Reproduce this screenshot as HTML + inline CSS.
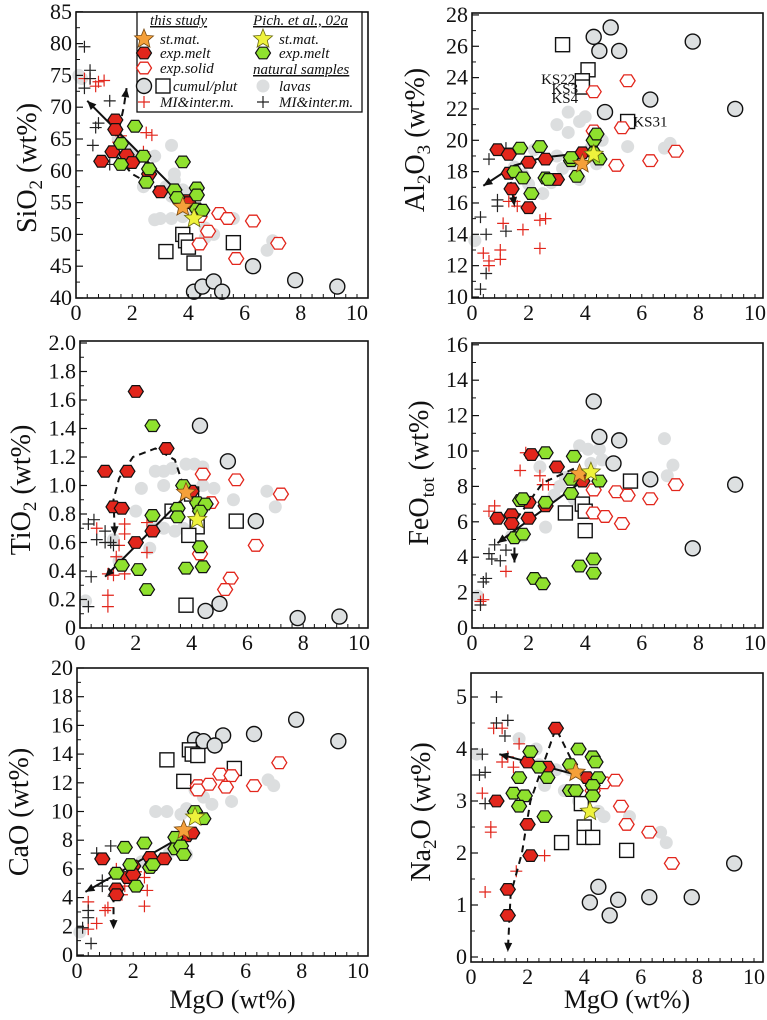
<!DOCTYPE html>
<html><head><meta charset="utf-8">
<style>
html,body{margin:0;padding:0;background:#fff;}
svg{display:block;}
svg text{font-family:"Liberation Serif","DejaVu Serif","Times New Roman",serif;}
</style></head>
<body>
<svg id="fig" width="767" height="1020" viewBox="0 0 767 1020" xmlns="http://www.w3.org/2000/svg"></svg>
<script>
// ---------------- DATA (MgO, oxide) ----------------
// SiO2 panel
const siLavas=[[0.1,75],[0.2,74.5],[1.5,65],[1.8,63.5],[2.0,62.5],[2.8,62.3],[3.4,64],[2.4,57.5],[3.2,57.5],[3.5,58.5],[3.8,57],[3.4,56],[3.9,56.2],[2.8,52.3],[3.0,52.5],[3.4,52.5],[3.8,52.8],[4.2,53],[4.6,51],[4.9,50],[5.6,52.5],[6.8,47.5],[7.0,49],[4.6,49.5],[3.5,59.5]];
const siRedPlus=[[0.3,74.5],[0.5,74.5],[0.7,73.3],[0.8,74],[1.0,74.2],[1.6,65.5],[1.5,64.5],[2.5,66],[2.7,65.6],[2.4,63]];
const siBlackPlus=[[0.3,79.5],[0.5,75.8],[0.5,74.5],[0.3,73],[1.2,71],[0.8,67.5],[0.7,66.8],[0.6,64],[1.2,61]];
const siCumul=[[4.2,41],[4.5,41.8],[4.9,42.6],[5.2,41],[6.3,45],[7.8,42.8],[9.3,41.8]];
const siPlut=[[3.2,47.3],[3.8,50],[3.9,49],[4.0,48],[4.2,45.5],[5.6,48.7]];
const siExpSolid=[[4.4,52.8],[4.7,50.5],[4.4,48.5],[5.1,53.3],[5.4,52.5],[5.7,46.2],[6.3,52.1],[7.2,48.6]];
const siRedMelt=[[1.4,68],[1.4,66.5],[1.3,63],[0.9,61.5],[1.8,62.5],[2.0,61.3],[2.6,59.5],[3.0,56.7],[3.9,55.3],[4.0,55]];
const siGreenMelt=[[2.1,67],[1.6,64.3],[1.6,61],[2.4,62.3],[2.6,60.3],[2.5,58.2],[3.5,57],[3.6,55.8],[3.8,61.4],[4.3,57.3],[4.3,56.2],[4.3,54],[4.5,53.8]];
const siOrangeStar=[[3.8,54.3]];
const siYellowStar=[[4.2,52.5]];
const siSolidTrend=[[4.0,55],[0.4,71]];
const siDashTrend=[[3.0,57],[2.0,59.5],[1.5,62],[1.5,66],[1.7,70],[1.8,73]];
// Al2O3 panel
const alLavas=[[0.1,13.6],[1.5,18.3],[1.8,17.8],[2.0,17.2],[2.5,16.6],[2.8,17.3],[3.2,18.2],[3.5,18.5],[3.8,17.5],[3.0,19],[3.4,20.5],[3.8,21.2],[4.0,21.5],[3.0,21],[3.4,21.8],[4.2,19.5],[4.6,20],[4.4,18.5],[5.5,19.6],[6.8,19.5],[7.0,19.8],[2.2,19.4]];
const alRedPlus=[[1.3,16.1],[1.5,16.1],[1.6,15.8],[1.1,14.7],[1.8,14.3],[2.4,14.9],[2.6,15],[2.4,13.1],[0.4,12.8],[0.6,12.3],[0.6,12],[1.0,13],[1.0,12.4]];
const alBlackPlus=[[0.6,18.8],[0.9,16.2],[0.9,15.8],[1.2,14.2],[0.3,15.1],[0.5,14],[0.5,11.5],[0.3,10.5],[1.2,19.5]];
const alCumul=[[4.9,27.2],[4.3,26.6],[4.5,25.7],[5.2,25.7],[7.8,26.3],[6.3,22.6],[9.3,22],[4.7,21.8]];
const alPlut=[[3.2,26.1],[4.1,24.5],[3.9,23.8],[3.9,23.4],[5.5,21.2]];
const alExpSolid=[[4.3,23.1],[5.5,23.8],[4.3,20.6],[5.3,20.8],[5.1,18.4],[6.3,18.7],[7.2,19.3]];
const alRedMelt=[[0.9,19.4],[1.3,19.1],[1.3,17.9],[1.4,16.9],[2.0,18.6],[2.0,15.7],[2.6,18.8],[3.0,17.5],[3.9,19.2]];
const alGreenMelt=[[1.7,19.5],[2.4,19.6],[1.5,18.0],[1.8,17.6],[2.6,17.6],[2.7,17.5],[2.1,16.6],[3.5,18.7],[3.5,18.9],[3.7,17.7],[4.3,20],[4.4,20.4],[4.3,19.2],[4.5,18.8]];
const alOrangeStar=[[3.9,18.5]];
const alYellowStar=[[4.3,19.1]];
const alSolidTrend=[[4.0,19.2],[2.5,18.9],[1.5,18.4],[0.4,17.1]];
const alDashTrend=[[1.3,18.1],[1.4,17],[1.5,15.8]];
const alSampleLabels=["KS22","KS3","KS4","KS31"];
const alSampleLabelPos=[[3.65,23.9],[3.75,23.3],[3.75,22.7],[5.7,21.2]];
// TiO2 panel
const tiLavas=[[0.2,0.19],[2.7,1.1],[3.0,1.1],[3.3,1.12],[3.8,1.15],[4.1,1.15],[4.4,1.13],[2.2,0.98],[3.0,1.0],[4.4,1.0],[4.8,0.98],[5.5,0.9],[6.7,0.96],[7.0,0.85],[2.6,0.72],[3.0,0.7],[3.4,0.68],[3.7,0.7],[2.5,0.56],[1.4,0.47],[1.2,0.62],[2.0,0.82]];
const tiRedPlus=[[0.6,0.7],[1.6,0.73],[1.6,0.66],[1.4,0.58],[2.4,0.74],[2.4,0.53],[1.3,0.5],[1.0,0.38],[1.2,0.37],[1.6,0.38],[1.0,0.23],[1.0,0.15]];
const tiBlackPlus=[[0.3,0.73],[0.5,0.76],[0.6,0.62],[0.9,0.68],[0.9,0.6],[1.1,0.6],[1.2,0.58],[0.4,0.36],[0.3,0.15]];
const tiCumul=[[4.3,1.42],[5.3,1.17],[6.3,0.75],[5.0,0.17],[4.5,0.12],[7.8,0.07],[9.3,0.08]];
const tiPlut=[[3.3,0.82],[4.0,0.94],[4.2,0.71],[3.9,0.65],[5.6,0.75],[3.8,0.16]];
const tiExpSolid=[[4.4,1.08],[5.6,1.04],[4.7,0.88],[7.2,0.94],[6.3,0.58],[4.3,0.52],[5.4,0.35],[5.2,0.27]];
const tiRedMelt=[[2.0,1.66],[3.1,1.26],[0.9,1.1],[1.7,1.1],[1.2,0.85],[1.5,0.84],[2.0,0.6],[2.6,0.68],[4.0,0.96]];
const tiGreenMelt=[[2.6,1.42],[3.7,1.0],[3.5,0.84],[3.5,0.78],[2.6,0.79],[4.3,0.84],[4.2,0.88],[4.5,0.87],[4.3,0.82],[4.3,0.57],[1.5,0.44],[2.1,0.41],[3.8,0.42],[4.4,0.43],[2.4,0.27]];
const tiOrangeStar=[[3.8,0.95]];
const tiYellowStar=[[4.2,0.76]];
const tiSolidTrend=[[3.9,0.95],[0.9,0.36]];
const tiDashTrend=[[3.7,1.0],[3.4,1.18],[2.7,1.26],[1.9,1.2],[1.4,1.05],[1.2,0.9],[1.25,0.65]];
// FeOtot panel
const feLavas=[[0.2,1.8],[3.8,10.3],[4.1,10.1],[4.5,10.1],[4.6,9.5],[2.4,9.1],[3.3,8.5],[3.1,8.0],[2.9,7.5],[3.6,7.3],[2.6,5.7],[1.8,5.2],[6.8,10.7],[7.1,9.2],[6.9,8.6],[4.2,9.3],[1.4,5.2]];
const feRedPlus=[[1.9,9.9],[1.7,8.9],[2.4,8.6],[2.5,8.1],[2.7,8.1],[0.6,6.6],[0.8,6.9],[1.2,3.2],[0.4,1.6],[0.3,1.5]];
const feBlackPlus=[[0.8,4.7],[1.2,4.4],[0.6,4.2],[0.7,3.9],[1.0,3.8],[0.4,2.6],[0.5,2.8],[0.3,1.3]];
const feCumul=[[4.3,12.8],[4.5,10.8],[5.2,10.6],[5.0,9.3],[6.3,8.4],[7.8,4.5],[9.3,8.1]];
const fePlut=[[5.6,8.3],[3.3,6.5],[3.9,7.0],[4.0,6.6],[4.0,5.5]];
const feExpSolid=[[4.3,7.8],[5.1,7.7],[5.5,7.5],[6.3,7.3],[7.2,8.1],[4.3,6.5],[4.7,6.3],[5.3,5.9]];
const feRedMelt=[[2.1,9.8],[3.0,9.1],[0.9,6.2],[1.4,6.4],[1.4,5.9],[2.0,7.1],[2.0,6.2],[2.6,6.9],[3.9,8.3]];
const feGreenMelt=[[2.6,9.9],[3.6,9.7],[3.5,8.4],[1.7,7.2],[1.8,7.3],[2.6,7.1],[3.5,7.6],[1.5,5.1],[1.8,5.3],[4.5,8.3],[2.2,2.8],[2.5,2.5],[3.8,3.5],[4.3,3.9],[4.3,3.1]];
const feOrangeStar=[[3.8,8.7]];
const feYellowStar=[[4.2,8.8]];
const feSolidTrend=[[3.9,8.3],[0.9,4.8]];
const feDashTrend=[[3.6,9.0],[2.5,8.2],[1.5,6.0],[1.5,3.7]];
// CaO panel
const caLavas=[[0.1,1.6],[2.8,10],[3.2,10.0],[3.7,9.8],[3.9,10.2],[4.2,11.5],[4.5,11],[4.8,10.5],[5.5,10.7],[6.8,12.2],[7.0,11.8],[3.3,7.2],[3.9,7],[2.3,6.5]];
const caRedPlus=[[1.4,6],[1.7,4.8],[1.6,4.2],[2.4,5.4],[2.5,4.5],[2.4,3.4],[1.0,3.1],[1.1,3.3],[0.7,2.2],[0.4,3.7],[0.4,1.8],[2.1,5.8]];
const caBlackPlus=[[0.7,7.1],[1.2,7.6],[0.9,5.2],[0.9,4.8],[1.3,4.1],[0.4,3.1],[0.4,2.6],[0.2,1.9],[0.5,0.8]];
const caCumul=[[4.2,15],[4.5,14.9],[5.2,15.3],[4.9,14.6],[6.3,15.4],[7.8,16.4],[9.3,14.9]];
const caPlut=[[3.2,13.6],[4.0,14.3],[4.1,14.0],[4.3,13.9],[5.6,13],[3.8,12.1]];
const caExpSolid=[[4.3,11.8],[4.3,11.5],[4.7,11.9],[5.1,12.6],[5.5,12.5],[5.3,11.7],[6.3,11.8],[7.2,13.4]];
const caRedMelt=[[0.9,6.7],[1.4,4.6],[1.4,4.2],[1.8,5.4],[2.0,6.2],[2.0,5.6],[2.6,6.8],[3.1,6.7],[3.9,8.3],[4.1,8.5]];
const caGreenMelt=[[1.7,7.5],[2.4,7.8],[1.4,5.7],[1.9,6.3],[2.1,4.8],[2.6,6.1],[2.7,6.3],[3.5,8.2],[3.5,7.4],[3.7,7.6],[3.8,7.0],[4.2,10.0],[4.5,9.5]];
const caOrangeStar=[[3.8,8.7]];
const caYellowStar=[[4.2,9.6]];
const caSolidTrend=[[3.5,8.0],[0.3,4.4]];
const caDashTrend=[[1.3,5.0],[1.3,1.8]];
// Na2O panel
const naLavas=[[0.2,3.9],[1.7,4.2],[2.3,4.0],[2.4,3.7],[3.0,3.6],[2.6,3.3],[3.3,3.2],[3.8,3.0],[4.5,2.8],[4.7,2.7],[5.6,2.7],[6.7,2.4],[6.9,2.2],[3.5,3.6]];
const naRedPlus=[[0.8,4.4],[1.1,4.4],[1.7,4.1],[1.1,3.75],[1.3,3.85],[1.5,3.65],[0.4,3.15],[0.7,2.5],[0.7,2.4],[2.6,1.95],[1.6,1.65],[0.5,1.25]];
const naBlackPlus=[[0.9,5.0],[0.9,4.5],[1.3,4.55],[1.2,4.25],[0.4,3.9],[0.3,3.5],[0.5,3.55],[0.5,2.95]];
const naCumul=[[9.3,1.8],[4.5,1.35],[4.2,1.05],[5.2,1.1],[4.9,0.8],[6.3,1.15],[7.8,1.15]];
const naPlut=[[3.9,2.95],[4.0,2.5],[4.0,2.3],[4.3,2.3],[3.2,2.2],[5.5,2.05]];
const naExpSolid=[[4.7,3.35],[5.1,3.4],[4.3,3.2],[5.3,2.9],[5.5,2.55],[6.3,2.4],[7.1,1.8]];
const naRedMelt=[[3.0,4.4],[2.0,3.75],[2.7,3.65],[4.1,3.45],[0.9,3.0],[2.0,2.55],[2.1,1.95],[1.3,1.3],[1.3,0.8]];
const naGreenMelt=[[2.1,3.95],[3.8,4.0],[4.3,3.85],[4.4,3.75],[3.5,3.7],[2.4,3.65],[2.7,3.45],[1.7,3.45],[4.5,3.45],[4.3,3.3],[1.5,3.15],[1.9,3.1],[1.7,2.9],[3.5,3.2],[3.7,3.2],[4.3,3.1],[2.6,2.7]];
const naOrangeStar=[[3.7,3.55]];
const naYellowStar=[[4.2,2.8]];
const naSolidTrend=[[4.1,3.45],[1.0,3.9]];
const naDashTrend=[[3.9,3.4],[3.0,4.4],[2.1,3.0],[1.8,2.0],[1.4,1.2],[1.3,0.1]];

// Tick label arrays
const xTickLabels=[0,2,4,6,8,10];
const siYTicks=[40,45,50,55,60,65,70,75,80,85];
const alYTicks=[10,12,14,16,18,20,22,24,26,28];
const tiYTicks=[0,0.2,0.4,0.6,0.8,1.0,1.2,1.4,1.6,1.8,2.0];
const feYTicks=[0,2,4,6,8,10,12,14,16];
const caYTicks=[0,2,4,6,8,10,12,14,16,18,20];
const naYTicks=[0,1,2,3,4,5];

// ---------------- DRAWING ----------------
const NS="http://www.w3.org/2000/svg";
const FONT="'Liberation Serif', 'DejaVu Serif', 'Times New Roman', serif";
const svg=document.getElementById('fig');
function mk(tag,attrs,parent){const e=document.createElementNS(NS,tag);for(const k in attrs)e.setAttribute(k,attrs[k]);if(tag==='text')e.style.fontFamily=FONT;(parent||svg).appendChild(e);return e;}
const RED="#e2261c",GREEN="#8fe12e",ORANGE="#f5a03a",YELLOW="#eef23c",GREYF="#dde0e1",LAVA="#dcdedf";

function hexPts(cx,cy,r){let p=[];for(let i=0;i<6;i++){const a=Math.PI/3*i;p.push((cx+r*Math.cos(a)).toFixed(1)+","+(cy+r*0.9*Math.sin(a)).toFixed(1));}return p.join(" ");}
function starPts(cx,cy,R){let p=[];for(let i=0;i<10;i++){const r=i%2?R*0.45:R;const a=-Math.PI/2+i*Math.PI/5;p.push((cx+r*Math.cos(a)).toFixed(1)+","+(cy+r*Math.sin(a)).toFixed(1));}return p.join(" ");}

function drawMarker(g,type,cx,cy){
  let e;
  if(type==='lava'){e=mk('circle',{cx,cy,r:6.5,fill:LAVA},g);}
  else if(type==='redplus'||type==='blackplus'){
    const c=type==='redplus'?RED:'#222';
    e=mk('path',{d:`M${cx-6},${cy}H${cx+6}M${cx},${cy-6}V${cy+6}`,stroke:c,'stroke-width':1.2,fill:'none'},g);}
  else if(type==='cumul'){e=mk('circle',{cx,cy,r:7.5,fill:GREYF,stroke:'#111','stroke-width':1.4},g);}
  else if(type==='plut'){e=mk('rect',{x:cx-7,y:cy-7,width:14,height:14,fill:'#fff',stroke:'#111','stroke-width':1.4},g);}
  else if(type==='solid'){e=mk('polygon',{points:hexPts(cx,cy,7.5),fill:'#fff',stroke:RED,'stroke-width':1.3},g);}
  else if(type==='redmelt'){e=mk('polygon',{points:hexPts(cx,cy,7.5),fill:RED,stroke:'#111','stroke-width':1.2},g);}
  else if(type==='greenmelt'){e=mk('polygon',{points:hexPts(cx,cy,7.5),fill:GREEN,stroke:'#111','stroke-width':1.2},g);}
  else if(type==='ostar'){e=mk('polygon',{points:starPts(cx,cy,10),fill:ORANGE,stroke:'#7a4a10','stroke-width':0.8},g);}
  else if(type==='ystar'){e=mk('polygon',{points:starPts(cx,cy,10),fill:YELLOW,stroke:'#6a6a10','stroke-width':0.8},g);}
  return e;
}

function arrowHead(g,x1,y1,x2,y2){
  const a=Math.atan2(y2-y1,x2-x1),L=9,w=4;
  const bx=x2-L*Math.cos(a),by=y2-L*Math.sin(a);
  const p=`${x2},${y2} ${bx+w*Math.sin(a)},${by-w*Math.cos(a)} ${bx-w*Math.sin(a)},${by+w*Math.cos(a)}`;
  const h=mk('polygon',{points:p,fill:'#111'},g);
  
  
}

function panel(cfg){
  const g=mk('g',{});
  
  
  const X=v=>cfg.left+v*cfg.xs;
  const Y=v=>cfg.y0px-(v-cfg.y0)*cfg.ys;
  const series=[['lava',cfg.lavas,'lavas-points'],['redplus',cfg.redPlus,'melt-inclusion-this-study'],['blackplus',cfg.blackPlus,'melt-inclusion-natural'],['cumul',cfg.cumul,'cumulate-points'],['plut',cfg.plut,'plutonic-points'],['solid',cfg.expSolid,'exp-solid-points']];
  series.forEach(([t,arr,nm])=>{const sg=mk('g',{},g);
    arr.forEach(d=>{const m=drawMarker(sg,t,X(d[0]),Y(d[1]));});});
  const sp=cfg.solidTrend.map(d=>[X(d[0]),Y(d[1])]);
  const sl=mk('polyline',{points:sp.map(p=>p.join(',')).join(' '),fill:'none',stroke:'#111','stroke-width':2},g);
  
  
  arrowHead(g,sp[sp.length-2][0],sp[sp.length-2][1],sp[sp.length-1][0],sp[sp.length-1][1]);
  const dp=cfg.dashTrend.map(d=>[X(d[0]),Y(d[1])]);
  const dl=mk('polyline',{points:dp.map(p=>p.join(',')).join(' '),fill:'none',stroke:'#111','stroke-width':2,'stroke-dasharray':'7,5'},g);
  
  
  arrowHead(g,dp[dp.length-2][0],dp[dp.length-2][1],dp[dp.length-1][0],dp[dp.length-1][1]);
  [['redmelt',cfg.redMelt,'exp-melt-this-study'],['greenmelt',cfg.greenMelt,'exp-melt-pichavant'],['ostar',cfg.oStar,'starting-material-this-study'],['ystar',cfg.yStar,'starting-material-pichavant']].forEach(([t,arr,nm])=>{
    const sg=mk('g',{},g);
    arr.forEach(d=>{const m=drawMarker(sg,t,X(d[0]),Y(d[1]));});});
  const fr=mk('rect',{x:cfg.left,y:cfg.top,width:cfg.right-cfg.left,height:cfg.bottom-cfg.top,fill:'none',stroke:'#111','stroke-width':1.6},g);
  
  
  for(let v=0;v<=10.3;v+=0.4){const x=X(v);mk('line',{x1:x,x2:x,y1:cfg.bottom,y2:cfg.bottom-4,stroke:'#111','stroke-width':1},g);}
  xTickLabels.forEach(v=>{const t=mk('text',{x:X(v),y:cfg.bottom+22,'text-anchor':'middle','font-size':22,fill:'#111'},g);t.textContent=v;
    });
  const yt=cfg.yTicks;
  for(let i=0;i<yt.length;i++){const y=Y(yt[i]);mk('line',{x1:cfg.left,x2:cfg.left+7,y1:y,y2:y,stroke:'#111','stroke-width':1.2},g);
    if(i<yt.length-1){const ym=Y((yt[i]+yt[i+1])/2);mk('line',{x1:cfg.left,x2:cfg.left+4,y1:ym,y2:ym,stroke:'#111','stroke-width':1},g);}
    const t=mk('text',{x:cfg.left-4,y:y+7,'text-anchor':'end','font-size':22,fill:'#111'},g);t.textContent=cfg.yFmt?cfg.yFmt(yt[i]):yt[i];
    }
  const tt=mk('text',{x:0,y:0,transform:`translate(${cfg.titleX},${cfg.titleY}) rotate(-90)`,'text-anchor':'middle','font-size':28,fill:'#111'},g);
  tt.innerHTML=cfg.title;
  
  
  if(cfg.xTitle){const xt=mk('text',{x:(cfg.left+cfg.right)/2+10,y:1008,'text-anchor':'middle','font-size':26,fill:'#111'},g);xt.textContent='MgO (wt%)';
    }
  return {g,X,Y};
}

const L={left:76,right:368,xs:28.1},R={left:472,right:763,xs:28.3};
function base(o,s){return Object.assign({},o,s);}

panel(base(L,{name:'sio2-panel',top:12,bottom:298,y0:40,y0px:298,ys:6.36,yTicks:siYTicks,title:'SiO<tspan font-size="19" dy="6">2</tspan><tspan dy="-6"> (wt%)</tspan>',titleX:36,titleY:168,
 lavas:siLavas,redPlus:siRedPlus,blackPlus:siBlackPlus,cumul:siCumul,plut:siPlut,expSolid:siExpSolid,redMelt:siRedMelt,greenMelt:siGreenMelt,oStar:siOrangeStar,yStar:siYellowStar,solidTrend:siSolidTrend,dashTrend:siDashTrend}));

const pAl=panel(base(R,{name:'al2o3-panel',top:13,bottom:298,y0:10,y0px:297,ys:15.67,yTicks:alYTicks,title:'Al<tspan font-size="19" dy="6">2</tspan><tspan dy="-6">O</tspan><tspan font-size="19" dy="6">3</tspan><tspan dy="-6"> (wt%)</tspan>',titleX:424,titleY:140,
 lavas:alLavas,redPlus:alRedPlus,blackPlus:alBlackPlus,cumul:alCumul,plut:alPlut,expSolid:alExpSolid,redMelt:alRedMelt,greenMelt:alGreenMelt,oStar:alOrangeStar,yStar:alYellowStar,solidTrend:alSolidTrend,dashTrend:alDashTrend}));
alSampleLabels.forEach((s,i)=>{const p=alSampleLabelPos[i];const right=i<3;
  const t=mk('text',{x:pAl.X(p[0]),y:pAl.Y(p[1])+5,'text-anchor':right?'end':'start','font-size':15,fill:'#111'});t.textContent=s;
  });

panel(base(L,{left:80,xs:27.9,name:'tio2-panel',top:341,bottom:628,y0:0,y0px:628,ys:142.5,yTicks:tiYTicks,yFmt:v=>v===0?'0':v.toFixed(1),title:'TiO<tspan font-size="19" dy="6">2</tspan><tspan dy="-6"> (wt%)</tspan>',titleX:30,titleY:490,
 lavas:tiLavas,redPlus:tiRedPlus,blackPlus:tiBlackPlus,cumul:tiCumul,plut:tiPlut,expSolid:tiExpSolid,redMelt:tiRedMelt,greenMelt:tiGreenMelt,oStar:tiOrangeStar,yStar:tiYellowStar,solidTrend:tiSolidTrend,dashTrend:tiDashTrend}));

panel(base(R,{name:'feo-panel',top:343,bottom:628,y0:0,y0px:628,ys:17.7,yTicks:feYTicks,title:'FeO<tspan font-size="19" dy="6">tot</tspan><tspan dy="-6"> (wt%)</tspan>',titleX:428,titleY:473,
 lavas:feLavas,redPlus:feRedPlus,blackPlus:feBlackPlus,cumul:feCumul,plut:fePlut,expSolid:feExpSolid,redMelt:feRedMelt,greenMelt:feGreenMelt,oStar:feOrangeStar,yStar:feYellowStar,solidTrend:feSolidTrend,dashTrend:feDashTrend}));

panel(base(L,{left:77,xs:28.1,name:'cao-panel',top:668,bottom:956,y0:0,y0px:955,ys:14.35,yTicks:caYTicks,title:'CaO (wt%)',titleX:28,titleY:812,xTitle:true,
 lavas:caLavas,redPlus:caRedPlus,blackPlus:caBlackPlus,cumul:caCumul,plut:caPlut,expSolid:caExpSolid,redMelt:caRedMelt,greenMelt:caGreenMelt,oStar:caOrangeStar,yStar:caYellowStar,solidTrend:caSolidTrend,dashTrend:caDashTrend}));

panel(base(R,{left:471,name:'na2o-panel',top:673,bottom:962,y0:0,y0px:957,ys:52,yTicks:naYTicks,title:'Na<tspan font-size="19" dy="6">2</tspan><tspan dy="-6">O (wt%)</tspan>',titleX:430,titleY:812,xTitle:true,
 lavas:naLavas,redPlus:naRedPlus,blackPlus:naBlackPlus,cumul:naCumul,plut:naPlut,expSolid:naExpSolid,redMelt:naRedMelt,greenMelt:naGreenMelt,oStar:naOrangeStar,yStar:naYellowStar,solidTrend:naSolidTrend,dashTrend:naDashTrend}));

// ---------------- LEGEND ----------------
const lg=mk('g',{});


mk('rect',{x:137,y:12,width:225,height:100,fill:'#fff',stroke:'#111','stroke-width':1.3},lg);
function ltext(x,y,s,nm,und){const t=mk('text',{x,y,'font-size':15,'font-style':'italic',fill:'#111','text-decoration':und?'underline':'none'},lg);t.textContent=s;
  return t;}
ltext(150,25,'this study','legend-header-this-study',true);
ltext(253,25,'Pich. et al., 02a','legend-header-pichavant',true);
ltext(253,74,'natural samples','legend-header-natural',true);
const rows=[[144,39,'ostar','st.mat.',160],[144,53,'redmelt','exp.melt',160],[144,68,'solid','exp.solid',160],[263,39,'ystar','st.mat.',279],[263,53,'greenmelt','exp.melt',279],[263,86,'lava','lavas',279],[144,102,'redplus','MI&inter.m.',160],[263,102,'blackplus','MI&inter.m.',279]];
rows.forEach(r=>{const m=drawMarker(lg,r[2],r[0],r[1]);
  ltext(r[4],r[1]+5,r[3],'legend-entry');});
let m1=drawMarker(lg,'cumul',144,86);
let m2=drawMarker(lg,'plut',163,86);
ltext(173,91,'cumul/plut','legend-entry');
</script>
</body></html>
